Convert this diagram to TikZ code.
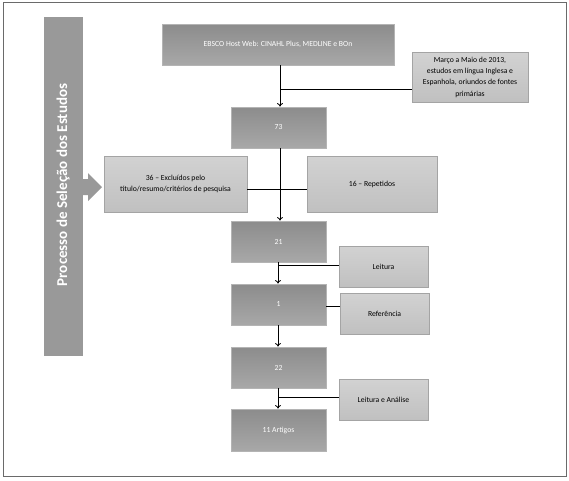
\documentclass[tikz,border=0pt]{standalone}
\usepackage{fontspec}
\setmainfont{Carlito}
\usetikzlibrary{arrows.meta}
\definecolor{darkA}{HTML}{8C8C8C}
\definecolor{darkB}{HTML}{A8A8A8}
\definecolor{darkE}{HTML}{B4B4B4}
\definecolor{lightA}{HTML}{D2D2D2}
\definecolor{lightB}{HTML}{C0C0C0}
\definecolor{lightE}{HTML}{A4A4A4}
\definecolor{barC}{HTML}{999999}
\definecolor{frameC}{HTML}{6A6A6A}
\begin{document}
\begin{tikzpicture}[x=1pt,y=-1pt,
  darkbox/.style={draw=darkE,line width=0.8pt,top color=darkA,bottom color=darkB,
    text=white,inner sep=0pt,align=center,font=\fontsize{7.7}{9}\selectfont},
  lightbox/.style={draw=lightE,line width=0.8pt,top color=lightA,bottom color=lightB,
    text=black,inner sep=0pt,align=center,font=\fontsize{7.7}{11.3}\selectfont},
  link/.style={line width=0.8pt,black},
  flow/.style={link,-{To[length=3.5pt,width=6pt]}}]
\useasboundingbox (0,0) rectangle (569,480);
\draw[frameC,line width=1pt] (3,2) rectangle (566,476);
% left bar
\node[fill=barC,draw=barC,minimum width=38pt,minimum height=338pt,inner sep=0pt] (bar) at (63,186) {};
\node[rotate=90,text=white,font=\fontsize{15}{17}\selectfont\bfseries] (bartext) at (63,185) {Processo de Seleção dos Estudos};
\fill[barC] (82,179) -- (88,179) -- (88,173) -- (102,187) -- (88,201) -- (88,195) -- (82,195) -- cycle;
% boxes
\node[darkbox,minimum width=232pt,minimum height=41pt] (ebsco) at (278,44.5) {EBSCO Host Web: CINAHL Plus, MEDLINE e BOn};
\node[lightbox,minimum width=116pt,minimum height=50pt] (marco) at (470,77) {Março a Maio de 2013,\\estudos em língua Inglesa e\\Espanhola, oriundos de fontes\\primárias};
\node[darkbox,minimum width=95pt,minimum height=41pt] (n73) at (278.5,127.5) {73};
\node[lightbox,minimum width=143pt,minimum height=56pt] (excl) at (175.5,184) {36 – Excluídos pelo\\título/resumo/critérios de pesquisa};
\node[lightbox,minimum width=130pt,minimum height=56pt] (rep) at (372,184) {16 – Repetidos};
\node[darkbox,minimum width=95pt,minimum height=41pt] (n21) at (278.5,241.5) {21};
\node[lightbox,minimum width=89pt,minimum height=41pt] (leit) at (383.5,266.5) {Leitura};
\node[darkbox,minimum width=95pt,minimum height=41pt] (n1) at (278.5,304.5) {1};
\node[lightbox,minimum width=89pt,minimum height=41pt] (ref) at (384.5,313.5) {Referência};
\node[darkbox,minimum width=95pt,minimum height=41pt] (n22) at (278.5,367.5) {22};
\node[lightbox,minimum width=89pt,minimum height=41pt] (la) at (383.5,399.5) {Leitura e Análise};
\node[darkbox,minimum width=95pt,minimum height=42pt] (n11) at (278.5,430) {11 Artigos};
% connectors
\coordinate (j1) at (280,89);
\coordinate (j2) at (278,265);
\coordinate (j3) at (278,397);
\draw[flow] (ebsco.south -| j1) -- (n73.north -| j1);
\draw[link] (marco.west |- j1) -- (j1);
\draw[flow] (n73.south -| j1) -- (n21.north -| j1);
\draw[link] (excl.east |- 0,189) -- (rep.west |- 0,189);
\draw[flow] (n21.south -| j2) -- (n1.north -| j2);
\draw[link] (leit.west |- j2) -- (j2);
\draw[link] (n1.east |- 0,306) -- (ref.west |- 0,306);
\draw[flow] (n1.south -| j2) -- (n22.north -| j2);
\draw[flow] (n22.south -| j3) -- (n11.north -| j3);
\draw[link] (la.west |- j3) -- (j3);
\end{tikzpicture}
\end{document}
